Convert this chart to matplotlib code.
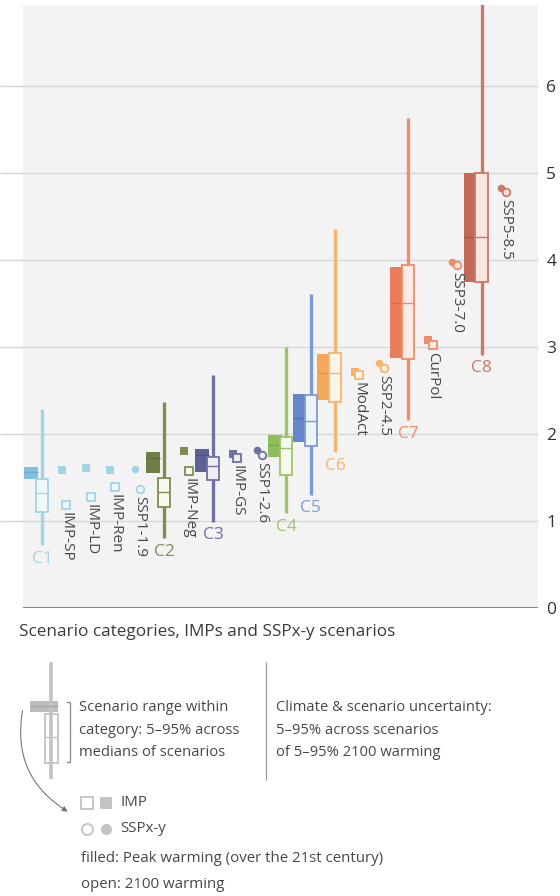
import matplotlib
matplotlib.use('Agg')
import matplotlib.pyplot as plt
from matplotlib.patches import FancyArrowPatch

plt.rcParams['font.family'] = ['Open Sans', 'DejaVu Sans']

# ---- data: warming (°C) -------------------------------------------------
categories = ['C1', 'C2', 'C3', 'C4', 'C5', 'C6', 'C7', 'C8']
# climate & scenario uncertainty (whisker)
unc_lo = [0.72, 0.80, 0.99, 1.09, 1.30, 1.79, 2.16, 2.91]
unc_hi = [2.29, 2.37, 2.68, 3.00, 3.61, 4.36, 5.63, 7.10]
# peak warming, 5-95% across scenario medians (filled box)
peak_lo = [1.48, 1.55, 1.56, 1.74, 1.91, 2.39, 2.87, 3.75]
peak_md = [1.56, 1.72, 1.76, 1.87, 2.18, 2.70, 3.51, 4.26]
peak_hi = [1.62, 1.79, 1.83, 1.99, 2.46, 2.92, 3.92, 5.00]
# 2100 warming (open box)
end_lo = [1.10, 1.16, 1.47, 1.53, 1.86, 2.37, 2.86, 3.75]
end_md = [1.32, 1.33, 1.63, 1.84, 2.15, 2.70, 3.51, 4.26]
end_hi = [1.48, 1.49, 1.74, 1.97, 2.45, 2.93, 3.94, 5.00]

scenarios = ['IMP-SP', 'IMP-LD', 'IMP-Ren', 'SSP1-1.9', 'IMP-Neg', 'IMP-GS',
             'SSP1-2.6', 'ModAct', 'SSP2-4.5', 'CurPol', 'SSP3-7.0', 'SSP5-8.5']
scen_kind = ['IMP', 'IMP', 'IMP', 'SSP', 'IMP', 'IMP',
             'SSP', 'IMP', 'SSP', 'IMP', 'SSP', 'SSP']
scen_cat = ['C1', 'C1', 'C1', 'C1', 'C2', 'C3',
            'C3', 'C6', 'C6', 'C7', 'C7', 'C8']
scen_peak = [1.59, 1.61, 1.59, 1.60, 1.80, 1.77, 1.82, 2.71, 2.82, 3.08, 3.98, 4.83]
scen_2100 = [1.18, 1.28, 1.39, 1.37, 1.57, 1.72, 1.76, 2.68, 2.76, 3.02, 3.94, 4.78]

# left-to-right order of the columns
slot_order = ['C1', 'IMP-SP', 'IMP-LD', 'IMP-Ren', 'SSP1-1.9', 'C2', 'IMP-Neg',
              'C3', 'IMP-GS', 'SSP1-2.6', 'C4', 'C5', 'C6', 'ModAct', 'SSP2-4.5',
              'C7', 'CurPol', 'SSP3-7.0', 'C8', 'SSP5-8.5']

# ---- styles -------------------------------------------------------------
line_col = ['#a3d4e6', '#7f8d52', '#6f71a1', '#9dc46b', '#7c9bd5', '#f6b56d', '#ef8c6b', '#cb7866']
box_col = ['#80c0dc', '#6f7e45', '#5e6195', '#8fbc5c', '#6487c9', '#f4a85b', '#ea7c5a', '#c26a5a']
med_col = ['#6aaecb', '#5d6b36', '#4e5184', '#7aa84a', '#4d70b4', '#e09448', '#d86a4a', '#ad584a']
pale = ['#eef8fb', '#f8f9ee', '#eeeef6', '#f4f9ec', '#edf2fb', '#fef4e8', '#fdece6', '#f8e6e1']
txt = '#474747'

W, H = 560, 896
fig = plt.figure(figsize=(W / 100, H / 100), dpi=100)
fig.patch.set_facecolor('white')

ax = fig.add_axes([23 / W, 1 - 608 / H, 515 / W, 603 / H])
ax.set_facecolor('#f3f3f3')
ax.set_xlim(-0.78, 20.31)
ax.set_ylim(0, 6.93)
for sp in ax.spines.values():
    sp.set_visible(False)
ax.set_xticks([])
ax.yaxis.tick_right()
ax.set_yticks(range(0, 7))
ax.tick_params(axis='y', length=0, pad=6, labelsize=12.5, labelcolor='#333333')

# gridlines run out to the left edge of the figure
ax.hlines(range(1, 7), -23 / 515, 1, transform=ax.get_yaxis_transform(),
          color='#d6d6d6', lw=1.0, clip_on=False, zorder=0)
ax.axhline(0, color='#8a8a8a', lw=2.2, zorder=1)

ci = {c: i for i, c in enumerate(categories)}
slot = {n: i for i, n in enumerate(slot_order)}

for i, c in enumerate(categories):
    s = slot[c]
    ax.vlines(s, unc_lo[i], unc_hi[i], color=line_col[i], lw=2.4, zorder=2)
    ax.bar(s - 0.45, peak_hi[i] - peak_lo[i], bottom=peak_lo[i], width=0.58,
           color=box_col[i], lw=0, zorder=3)
    ax.hlines(peak_md[i], s - 0.74, s - 0.16, color=med_col[i], lw=1.0, zorder=3)
    ax.bar(s, end_hi[i] - end_lo[i], bottom=end_lo[i], width=0.5,
           facecolor=pale[i], edgecolor=line_col[i], lw=1.3, zorder=4)
    ax.hlines(end_md[i], s - 0.25, s + 0.25, color=line_col[i], lw=1.0, zorder=5)
    ax.annotate(c, (s, unc_lo[i]), xytext=(0, -4), textcoords='offset points',
                ha='center', va='top', fontsize=12.5, color=line_col[i])

for j, n in enumerate(scenarios):
    s = slot[n]
    k = ci[scen_cat[j]]
    m = 's' if scen_kind[j] == 'IMP' else 'o'
    ax.plot(s - 0.2, scen_peak[j], m, color=line_col[k], ms=5.5, mew=0, zorder=5)
    ax.plot(s, scen_2100[j], m, mfc=pale[k], mec=line_col[k], ms=5.5, mew=1.3, zorder=6)
    ax.annotate(n, (s, scen_2100[j]), xytext=(0, -5), textcoords='offset points',
                rotation=-90, ha='center', va='top', fontsize=11, color=txt)

# ---- explanatory key below the chart (pixel coordinates) ----------------
lg = fig.add_axes([0, 0, 1, 1])
lg.set_xlim(0, W)
lg.set_ylim(H, 0)
lg.axis('off')
lg.patch.set_visible(False)

grey = '#c4c4c4'
lg.text(19, 632, 'Scenario categories, IMPs and SSPx-y scenarios',
        fontsize=12.3, color='#3a3a3a', va='center')
lg.vlines(51, 662, 779, color=grey, lw=2.6)
lg.bar(44, 11, bottom=701, width=28, color='#bdbdbd', lw=0)
lg.hlines(706.5, 30, 58, color='#a8a8a8', lw=1)
lg.bar(51, 49, bottom=714, width=13, facecolor='white', edgecolor=grey, lw=1.3)
lg.hlines(737, 44.5, 57.5, color=grey, lw=1)
lg.plot([67, 70, 70, 67], [702, 702, 762, 762], color='#8a8a8a', lw=0.9)
lg.vlines(266, 662, 780, color='#9a9a9a', lw=0.9)

lg.text(79, 730, 'Scenario range within\ncategory: 5–95% across\nmedians of scenarios',
        fontsize=10.6, color=txt, va='center', linespacing=1.72)
lg.text(276, 730, 'Climate & scenario uncertainty:\n5–95% across scenarios\nof 5–95% 2100 warming',
        fontsize=10.6, color=txt, va='center', linespacing=1.72)

arr = FancyArrowPatch((23, 708), (70, 813), connectionstyle='arc3,rad=0.35',
                      arrowstyle='-|>,head_length=3,head_width=1.6',
                      color='#777777', lw=0.8, transform=lg.transData)
lg.add_patch(arr)

lg.plot(87, 803, 's', mfc='white', mec=grey, ms=8, mew=1.3)
lg.plot(106, 803, 's', color=grey, ms=8, mew=0)
lg.text(120, 803, 'IMP', fontsize=10.8, color=txt, va='center')
lg.plot(87, 829, 'o', mfc='white', mec=grey, ms=8, mew=1.3)
lg.plot(106, 829, 'o', color=grey, ms=8, mew=0)
lg.text(120, 829, 'SSPx-y', fontsize=10.8, color=txt, va='center')
lg.text(81, 858, 'filled: Peak warming (over the 21st century)',
        fontsize=10.8, color=txt, va='center')
lg.text(81, 885, 'open: 2100 warming', fontsize=10.8, color=txt, va='center')

fig.savefig('out.png', dpi=100)
